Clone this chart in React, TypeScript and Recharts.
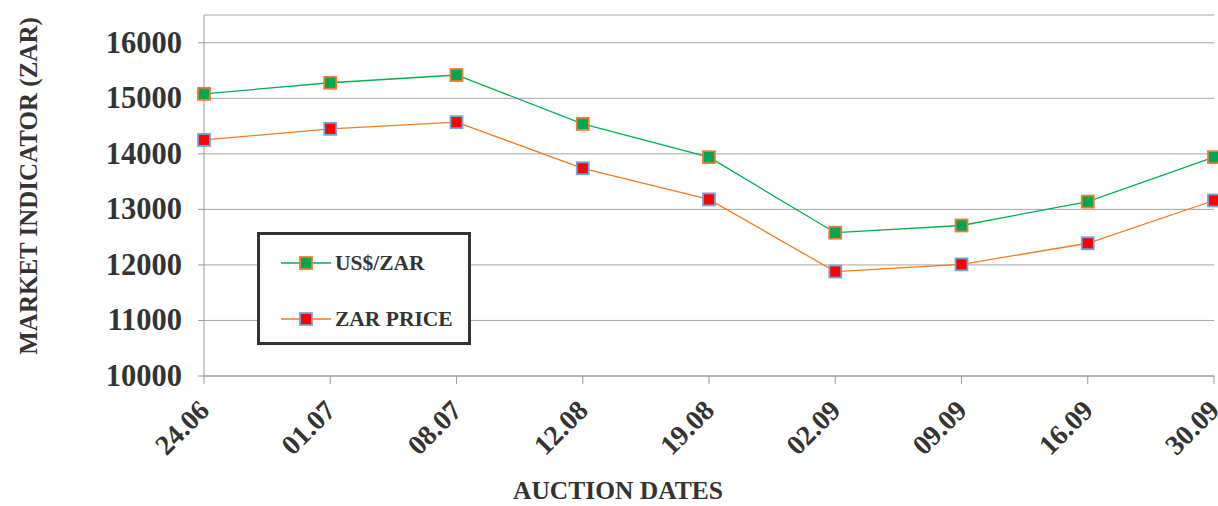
import React from 'react';
import { LineChart, Line, XAxis, YAxis, CartesianGrid, Legend } from 'recharts';

const dates = ['24.06', '01.07', '08.07', '12.08', '19.08', '02.09', '09.09', '16.09', '30.09'];
const usdZar = [15080, 15280, 15420, 14540, 13940, 12580, 12710, 13140, 13940];
const zarPrice = [14250, 14450, 14570, 13740, 13180, 11880, 12010, 12390, 13160];
const yTicks = [10000, 11000, 12000, 13000, 14000, 15000, 16000];

const data = dates.map((d, i) => ({ date: d, usd: usdZar[i], zar: zarPrice[i] }));

const FONT = '"Liberation Serif", "Times New Roman", serif';
const TEXT = '#333333';

const series = [
  { key: 'usd', name: 'US$/ZAR', line: '#00B050', fill: '#00A651', stroke: '#ED7D31' },
  { key: 'zar', name: 'ZAR PRICE', line: '#F47B20', fill: '#FF0000', stroke: '#6FA8DC' },
];

const SquareDot = (fill: string, stroke: string) => (props: any) => {
  const { cx, cy, index } = props;
  if (cx == null || cy == null) return null;
  return <rect key={index} x={cx - 6} y={cy - 6} width={12} height={12} fill={fill} stroke={stroke} strokeWidth={1.8} />;
};

const XTick = (props: any) => {
  const { x, y, payload } = props;
  const ax = x + 7;
  const ay = y + 26;
  return (
    <text x={ax} y={ay} transform={`rotate(-45 ${ax} ${ay})`} textAnchor="end" fontFamily={FONT} fontWeight="bold" fontSize={28} fill={TEXT}>
      {payload.value}
    </text>
  );
};

const YTick = (props: any) => {
  const { x, y, payload } = props;
  return (
    <text x={x - 14} y={y + 10} textAnchor="end" fontFamily={FONT} fontWeight="bold" fontSize={30.5} fill={TEXT}>
      {payload.value}
    </text>
  );
};

const LegendBox = () => (
  <div style={{ width: 214, height: 113, boxSizing: 'border-box', border: '3px solid #333', background: '#fff', position: 'relative' }}>
    {series.map((s, i) => (
      <div key={s.key} style={{ position: 'absolute', left: 21, top: 13 + i * 56, height: 30, display: 'flex', alignItems: 'center' }}>
        <svg width={54} height={30}>
          <line x1={0} y1={15} x2={50} y2={15} stroke={s.line} strokeWidth={1.5} />
          <rect x={19} y={9} width={12} height={12} fill={s.fill} stroke={s.stroke} strokeWidth={1.8} />
        </svg>
        <span style={{ fontFamily: FONT, fontWeight: 'bold', fontSize: 21.5, color: TEXT, lineHeight: '30px' }}>{s.name}</span>
      </div>
    ))}
  </div>
);

export default function App() {
  return (
    <div style={{ position: 'absolute', left: 0, top: 0, width: 1218, height: 506, background: '#fff' }}>
      <LineChart width={1218} height={506} data={data} margin={{ top: 15, right: 4, bottom: 0, left: 0 }}>
        <CartesianGrid vertical={false} stroke="#a6a6a6" strokeWidth={1} />
        <XAxis
          dataKey="date"
          height={130}
          interval={0}
          tickSize={8}
          stroke="#999"
          tickLine={{ stroke: '#999' }}
          axisLine={{ stroke: '#999' }}
          tick={<XTick />}
          label={{
            content: () => (
              <text x={618} y={499} textAnchor="middle" fontFamily={FONT} fontWeight="bold" fontSize={25.5} fill={TEXT}>
                AUCTION DATES
              </text>
            ),
          }}
        />
        <YAxis
          width={204}
          domain={[10000, 16500]}
          ticks={yTicks}
          interval={0}
          tickSize={6}
          stroke="#999"
          tickLine={{ stroke: '#999' }}
          axisLine={{ stroke: '#999' }}
          tick={<YTick />}
          label={{
            content: () => (
              <text x={37} y={186} transform="rotate(-90 37 186)" textAnchor="middle" fontFamily={FONT} fontWeight="bold" fontSize={25} fill={TEXT}>
                MARKET INDICATOR (ZAR)
              </text>
            ),
          }}
        />
        <Legend
          layout="vertical"
          align="center"
          verticalAlign="middle"
          content={() => <LegendBox />}
          wrapperStyle={{ position: 'absolute', left: 257, top: 232, width: 214, height: 113 }}
        />
        {series.map((s) => (
          <Line
            key={s.key}
            type="linear"
            dataKey={s.key}
            name={s.name}
            stroke={s.line}
            strokeWidth={1.3}
            dot={SquareDot(s.fill, s.stroke)}
            activeDot={false}
            isAnimationActive={false}
          />
        ))}
      </LineChart>
    </div>
  );
}
